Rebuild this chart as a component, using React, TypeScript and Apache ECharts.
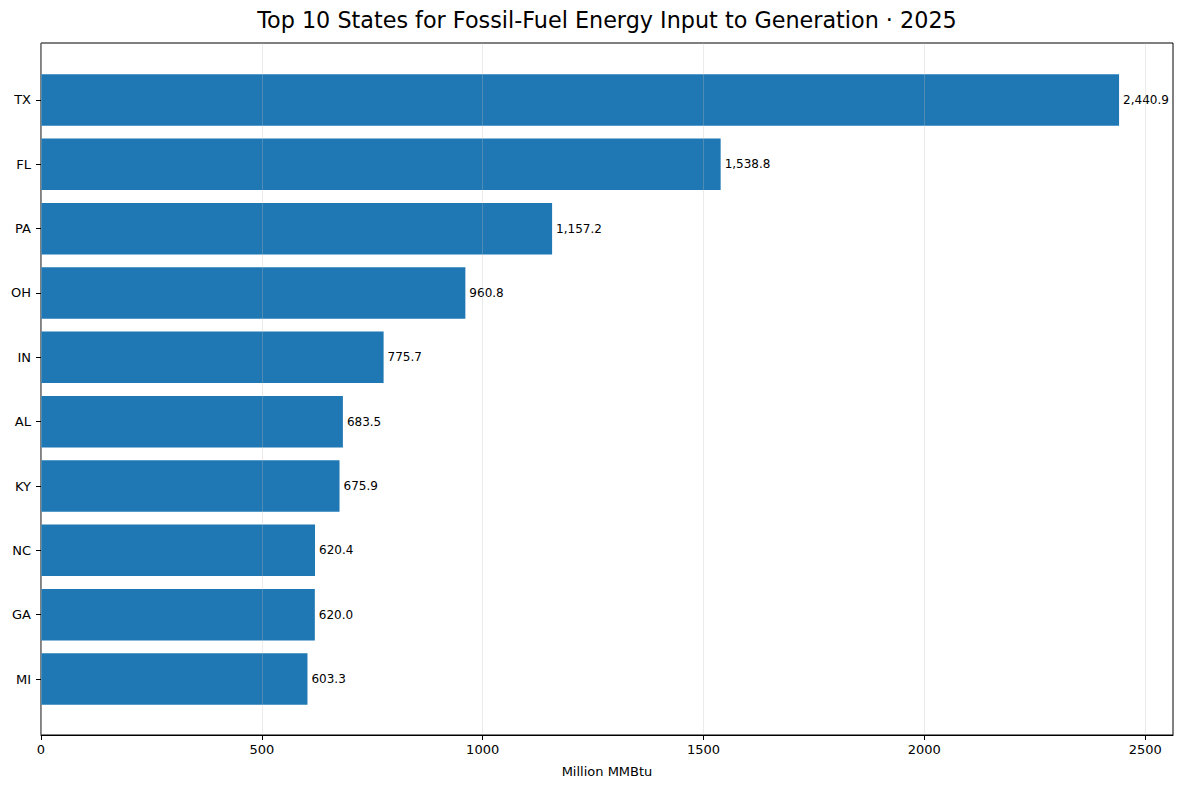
import React, { useEffect, useRef } from "react";
import * as echarts from "echarts";

const states = ["TX", "FL", "PA", "OH", "IN", "AL", "KY", "NC", "GA", "MI"];
const values = [2440.9, 1538.8, 1157.2, 960.8, 775.7, 683.5, 675.9, 620.4, 620.0, 603.3];
const xTicks = [0, 500, 1000, 1500, 2000, 2500];
const titleText = "Top 10 States for Fossil-Fuel Energy Input to Generation · 2025";
const xLabel = "Million MMBtu";

const FONT = "DejaVu Sans";
const X_MAX = 2563;

export default function App() {
  const ref = useRef<HTMLDivElement>(null);
  useEffect(() => {
    if (!ref.current) return;
    const chart = echarts.init(ref.current, undefined, { renderer: "svg" });
    const fmt = (v: number) =>
      v.toLocaleString("en-US", { minimumFractionDigits: 1, maximumFractionDigits: 1 });
    chart.setOption({
      animation: false,
      backgroundColor: "#ffffff",
      title: {
        text: titleText,
        left: 602,
        textAlign: "center",
        top: 4,
        textStyle: { fontFamily: FONT, fontSize: 22.3, fontWeight: "normal", color: "#000" },
      },
      grid: [
        { left: 41, right: 9, top: 43, bottom: 55, show: true, borderColor: "#000", borderWidth: 1, backgroundColor: "transparent", z: 0 },
        { left: 41, right: 9, top: 67.8, bottom: 78.8 },
      ],
      xAxis: [
        {
          type: "value",
          gridIndex: 0,
          min: 0,
          max: X_MAX,
          interval: 500,
          z: 5,
          name: xLabel,
          nameLocation: "middle",
          nameGap: 30,
          nameTextStyle: { fontFamily: FONT, fontSize: 13, color: "#000" },
          axisLine: { show: true, lineStyle: { color: "#000", width: 1 } },
          axisTick: { show: true, length: 5, customValues: xTicks, lineStyle: { color: "#000" } },
          axisLabel: {
            fontFamily: FONT,
            fontSize: 13,
            color: "#000",
            margin: 8,
            customValues: xTicks,
            formatter: (v: number) => (xTicks.includes(v) ? String(v) : ""),
          },
          splitLine: { show: true, lineStyle: { color: "rgba(190,190,190,0.3)", width: 1 } },
        },
        {
          type: "value",
          gridIndex: 1,
          min: 0,
          max: X_MAX,
          show: false,
        },
      ],
      yAxis: [
        { type: "value", gridIndex: 0, show: false, min: 0, max: 1 },
        {
          type: "category",
          gridIndex: 1,
          data: states,
          inverse: true,
          axisLine: { show: false },
          axisTick: { show: true, alignWithLabel: true, length: 5, lineStyle: { color: "#000" } },
          axisLabel: { fontFamily: FONT, fontSize: 13, color: "#000", margin: 10 },
          splitLine: { show: false },
        },
      ],
      series: [
        {
          type: "bar",
          xAxisIndex: 1,
          yAxisIndex: 1,
          data: values,
          barCategoryGap: "20%",
          itemStyle: { color: "#1f77b4" },
          label: {
            show: true,
            position: "right",
            distance: 4,
            fontFamily: FONT,
            fontSize: 12,
            color: "#000",
            formatter: (p: any) => fmt(p.value),
          },
          z: 2,
        },
      ],
    });
    return () => chart.dispose();
  }, []);
  return (
    <div
      ref={ref}
      style={{ position: "fixed", left: 0, top: 0, width: 1182, height: 790, background: "#fff" }}
    />
  );
}
